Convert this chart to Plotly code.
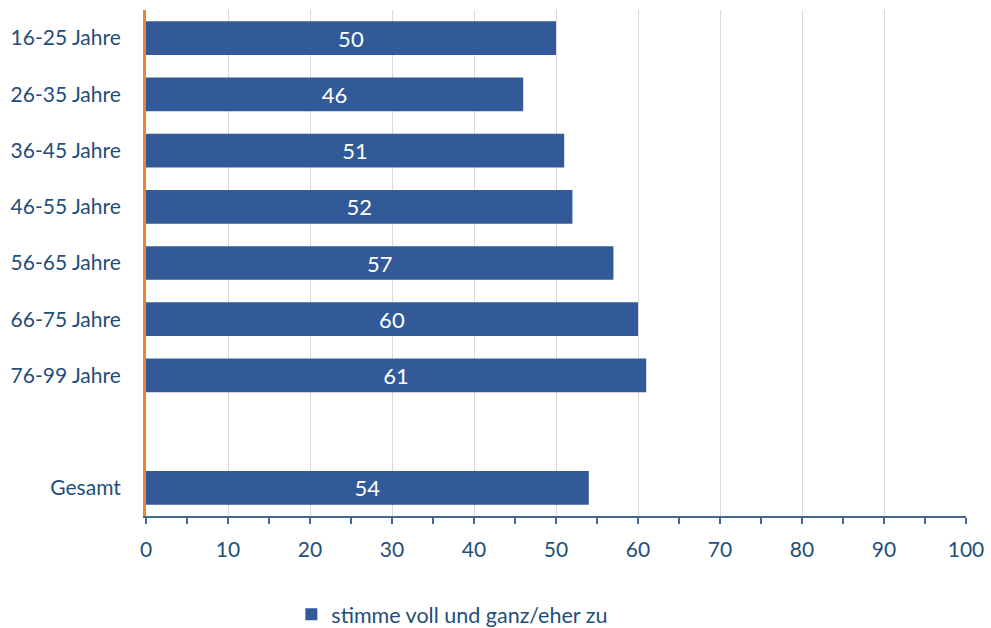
import plotly.graph_objects as go

categories = ["16-25 Jahre", "26-35 Jahre", "36-45 Jahre", "46-55 Jahre",
              "56-65 Jahre", "66-75 Jahre", "76-99 Jahre", " ", "Gesamt"]
values = [50, 46, 51, 52, 57, 60, 61, None, 54]
labels = ["50", "46", "51", "52", "57", "60", "61", "", "54"]
series_name = "stimme voll und ganz/eher zu"
x_ticks = [0, 10, 20, 30, 40, 50, 60, 70, 80, 90, 100]

BAR = "#325a98"
TXT = "#1f4e79"
FONT = "Lato"

fig = go.Figure(go.Bar(
    x=values, y=categories, orientation="h",
    name=series_name,
    marker=dict(color=BAR, line=dict(width=0)),
    width=0.6,
    text=labels, textposition="inside", insidetextanchor="middle",
    textfont=dict(color="white", size=22, family=FONT),
    showlegend=True,
))

fig.update_layout(
    width=991, height=628,
    margin=dict(l=146, r=25, t=10, b=112, autoexpand=False),
    plot_bgcolor="white", paper_bgcolor="white",
    font=dict(family=FONT, color=TXT, size=21),
    bargap=0.4,
    showlegend=True,
    legend=dict(orientation="h", x=0.294, xanchor="left",
                y=0.022, yanchor="middle", yref="container", xref="container",
                font=dict(size=21.5, color=TXT, family=FONT),
                itemwidth=30, traceorder="normal"),
)

fig.update_xaxes(
    range=[0, 100], tickvals=x_ticks, showgrid=True, gridcolor="#d9d9d9", gridwidth=1,
    zeroline=False, showline=True, linecolor="#44688f", linewidth=1.5,
    ticks="outside", ticklen=6, tickcolor="#44688f", tickwidth=1.5,
    minor=dict(dtick=5, ticks="outside", ticklen=6, tickcolor="#44688f", tickwidth=1.5, showgrid=False),
    tickfont=dict(size=21, color=TXT), ticklabelstandoff=8,
)
fig.update_yaxes(
    categoryorder="array", categoryarray=categories, autorange="reversed",
    showline=True, linecolor="#f08331", linewidth=3, showgrid=False,
    ticks="", tickfont=dict(size=21, color=TXT), ticklabelstandoff=18,
)

fig.write_html("out.html")
